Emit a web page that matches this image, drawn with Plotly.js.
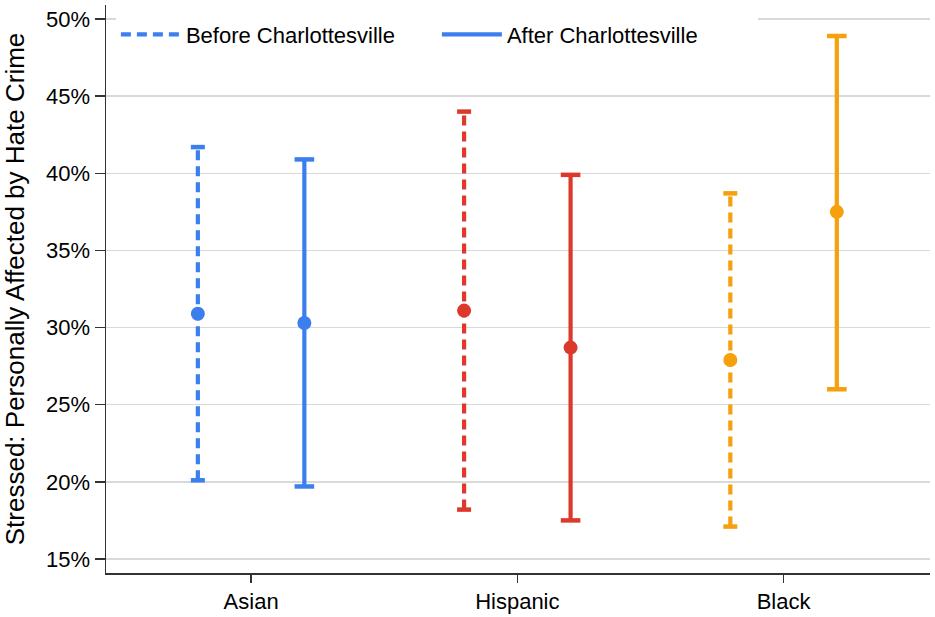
<!DOCTYPE html>
<html>
<head>
<meta charset="utf-8">
<script src="https://cdn.plot.ly/plotly-3.0.1.min.js"></script>
<style>html,body{margin:0;padding:0;background:#fff;}#chart{width:935px;height:617px;}</style>
</head>
<body>
<div id="chart"></div>
<script>
// Data (percent)
var categories = ["Asian", "Hispanic", "Black"];
var colors = ["#3b7fee", "#dc392c", "#f5a00c"];
var beforeEst = [30.9, 31.1, 27.9];
var beforeLo  = [20.1, 18.2, 17.1];
var beforeHi  = [41.7, 44.0, 38.7];
var afterEst  = [30.3, 28.7, 37.5];
var afterLo   = [19.7, 17.5, 26.0];
var afterHi   = [40.9, 39.9, 48.9];
var yTicks = [15, 20, 25, 30, 35, 40, 45, 50];
var yTickText = yTicks.map(function (v) { return v + "%"; });
var seriesNames = ["Before Charlottesville", "After Charlottesville"];

var offset = 0.2;
var traces = [];
function addSeries(est, lo, hi, shift, dash, capSize, name) {
  for (var i = 0; i < categories.length; i++) {
    var x = i + shift;
    traces.push({
      x: [x, x], y: [lo[i], hi[i]], type: "scatter", mode: "lines",
      line: {color: colors[i], width: 4.2, dash: dash},
      name: name, showlegend: i === 0, legendrank: shift < 0 ? 1 : 2,
      hoverinfo: "skip"
    });
    traces.push({
      x: [x, x], y: [lo[i], hi[i]], type: "scatter", mode: "markers",
      marker: {symbol: "line-ew", size: capSize, color: colors[i],
               line: {color: colors[i], width: 4.5}},
      showlegend: false, hoverinfo: "skip"
    });
    traces.push({
      x: [x], y: [est[i]], type: "scatter", mode: "markers",
      marker: {symbol: "circle", size: 14, color: colors[i]},
      showlegend: false
    });
  }
}
addSeries(beforeEst, beforeLo, beforeHi, -offset, "10px,6px", 10, seriesNames[0]);
addSeries(afterEst, afterLo, afterHi, offset, "solid", 14, seriesNames[1]);

var layout = {
  width: 935, height: 617,
  margin: {l: 106, r: 5, t: 5, b: 44},
  paper_bgcolor: "#fff", plot_bgcolor: "#fff",
  font: {family: "Liberation Sans, Arial, sans-serif", color: "#000", size: 22},
  showlegend: true,
  legend: {
    orientation: "h", x: 0.012, xanchor: "left", y: 0.985, yanchor: "top",
    bgcolor: "#fff", font: {size: 22, color: "#000"},
    itemwidth: 60,
    entrywidth: 246, entrywidthmode: "pixels", traceorder: "normal"
  },
  xaxis: {
    range: [-0.545, 2.55], tickvals: [0, 1, 2], ticktext: categories,
    showgrid: false, zeroline: false, showline: true, linecolor: "#333", linewidth: 1.5,
    ticks: "outside", ticklen: 8, tickwidth: 1.5, tickcolor: "#333",
    tickfont: {size: 22}
  },
  yaxis: {
    range: [14.09, 50.91], tickmode: "array", tickvals: yTicks, ticktext: yTickText,
    showgrid: true, gridcolor: "#d9d9d9", gridwidth: 1.5,
    zeroline: false, showline: true, linecolor: "#333", linewidth: 1.5,
    ticks: "outside", ticklen: 10, tickwidth: 1.5, tickcolor: "#333",
    tickfont: {size: 22},
    title: {text: "Stressed: Personally Affected by Hate Crime", font: {size: 26}, standoff: 14}
  }
};
Plotly.newPlot("chart", traces, layout, {displayModeBar: false, staticPlot: true});
</script>
</body>
</html>
